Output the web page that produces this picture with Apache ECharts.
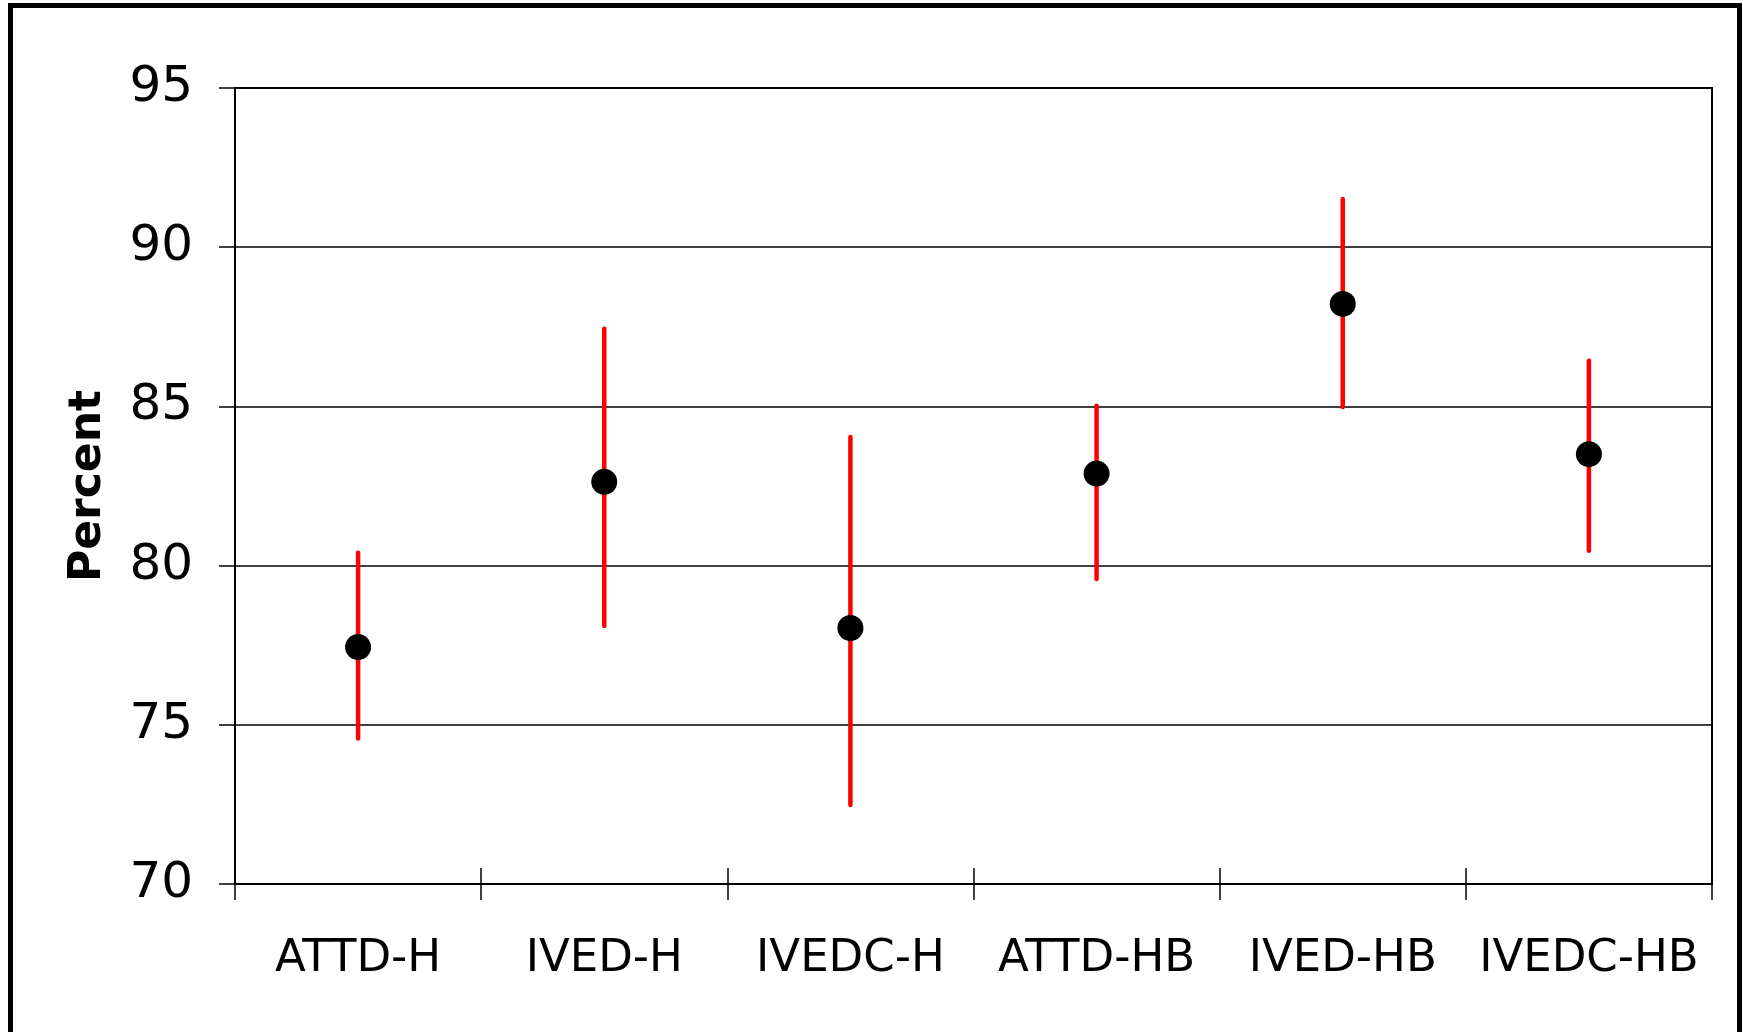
<!DOCTYPE html>
<html>
<head>
<meta charset="utf-8">
<script src="https://cdn.jsdelivr.net/npm/echarts@6/dist/echarts.min.js"></script>
<style>
html,body{margin:0;padding:0;background:#fff;}
#chart{width:1743px;height:1032px;}
</style>
</head>
<body>
<div id="chart"></div>
<script>
var categories = ['ATTD-H', 'IVED-H', 'IVEDC-H', 'ATTD-HB', 'IVED-HB', 'IVEDC-HB'];
var means = [77.44, 82.63, 78.04, 82.89, 88.22, 83.50];
var lower = [74.57, 78.10, 72.48, 79.58, 84.98, 80.47];
var upper = [80.40, 87.44, 84.04, 85.02, 91.51, 86.43];
var yTicks = [70, 75, 80, 85, 90, 95];

var FONT = 'DejaVu Sans';
var chart = echarts.init(document.getElementById('chart'), null, {renderer: 'canvas'});

var errData = categories.map(function (c, i) { return [i, lower[i], upper[i]]; });
var ptData = categories.map(function (c, i) { return [i, means[i]]; });

var option = {
  backgroundColor: '#fff',
  animation: false,
  graphic: [{
    type: 'rect',
    shape: {x: 10.5, y: 5.5, width: 1729, height: 1040},
    style: {fill: 'none', stroke: '#000', lineWidth: 5},
    z: 100
  }],
  grid: {
    left: 235, right: 31, top: 88, bottom: 148,
    show: true, borderColor: '#000', borderWidth: 2, backgroundColor: '#fff'
  },
  xAxis: [{
    type: 'category',
    data: categories,
    boundaryGap: true,
    axisLine: {show: true, lineStyle: {color: '#000', width: 2}},
    axisTick: {show: true, interval: 0, length: 16, inside: false, lineStyle: {color: '#000', width: 1.5}},
    axisLabel: {interval: 0, color: '#000', fontFamily: FONT, fontSize: 45, margin: 53},
    splitLine: {show: false}
  }, {
    type: 'category',
    data: categories,
    position: 'bottom',
    boundaryGap: true,
    axisLine: {show: false},
    axisTick: {show: true, interval: 0, length: 16, inside: true, lineStyle: {color: '#000', width: 1.5}},
    axisLabel: {show: false},
    splitLine: {show: false}
  }],
  yAxis: {
    type: 'value',
    min: yTicks[0], max: yTicks[yTicks.length - 1], interval: 5,
    name: 'Percent',
    nameLocation: 'middle',
    nameRotate: 90,
    nameGap: 124,
    nameTextStyle: {color: '#000', fontFamily: FONT, fontSize: 44, fontWeight: 'bold'},
    axisLine: {show: true, lineStyle: {color: '#000', width: 2}},
    axisTick: {show: true, length: 16, inside: false, lineStyle: {color: '#000', width: 1.5}},
    axisLabel: {color: '#000', fontFamily: FONT, fontSize: 50, margin: 42},
    splitLine: {show: true, lineStyle: {color: '#000', width: 1.5}}
  },
  series: [{
    type: 'custom',
    xAxisIndex: 0,
    data: errData,
    z: 3,
    renderItem: function (params, api) {
      var x = api.value(0);
      var p1 = api.coord([x, api.value(1)]);
      var p2 = api.coord([x, api.value(2)]);
      return {
        type: 'line',
        shape: {x1: p1[0], y1: p1[1], x2: p2[0], y2: p2[1]},
        style: {stroke: '#ff0000', lineWidth: 4.5, lineCap: 'round'}
      };
    }
  }, {
    type: 'scatter',
    xAxisIndex: 0,
    data: ptData,
    symbol: 'circle',
    symbolSize: 26,
    itemStyle: {color: '#000', opacity: 1},
    z: 5
  }]
};
chart.setOption(option);
</script>
</body>
</html>
